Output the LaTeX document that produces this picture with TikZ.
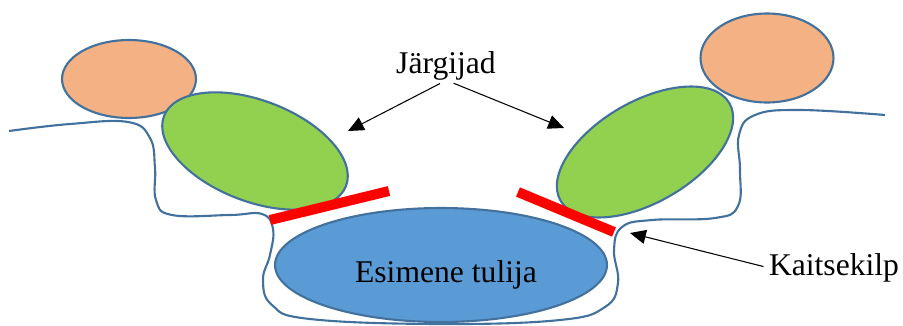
\documentclass[tikz,border=0pt]{standalone}
\usepackage{fontspec}
\setmainfont{Liberation Serif}
\usetikzlibrary{shapes.geometric,arrows.meta}
\definecolor{rim}{HTML}{41719C}
\definecolor{peach}{HTML}{F4B183}
\definecolor{leaf}{HTML}{92D050}
\definecolor{sea}{HTML}{5B9BD5}
\tikzset{
    EL/.style ={ellipse, draw=rim, line width=1.2pt, inner sep=0pt},
    OR/.style ={EL, fill=peach},
    GR/.style ={EL, fill=leaf, minimum width = 3.9cm, minimum height = 2.02cm},
    KS/.style ={red, line width=5.7pt},
    AR/.style ={-{Triangle[length=9pt,width=8pt]}, line width=0.6pt, shorten <=2pt}}

\begin{document}
\begin{tikzpicture}[x=0.02cm,y=-0.02cm,font=\fontsize{18}{22}\selectfont]
        \useasboundingbox (0,0) rectangle (903,325);
        % rim of the crowd
        \draw[rim, line width=1.2pt] plot[smooth, tension=0.7] coordinates {
            (9,131) (70,124) (128,122) (150,138) (155,168) (156,200) (172,215)
            (230,215) (262,214) (273,229) (270,255) (263,280) (272,305) (310,319)
            (440,324) (560,320) (605,307) (618,283) (614,250) (622,227) (652,220)
            (715,218) (738,206) (740,170) (739,135) (755,115) (800,110) (885,115)};
        \node[OR, minimum width=2.68cm, minimum height=1.56cm] (o1) at (129,79) {};
        \node[OR, minimum width=2.66cm, minimum height=1.78cm] (o2) at (767,58) {};
        \node[GR, rotate=-21] (g1) at (255,151) {};
        \node[GR, rotate=30] (g2) at (645,152) {};
        \node[EL, fill=sea, minimum width=6.64cm, minimum height=2.28cm] (e1) at (441,265) {};
        \node[anchor=base] (lb) at (446,282) {Esimene tulija};
        \draw[KS] (270,220) --(389,191);
        \draw[KS] (518,192) --(614,232);
        \node[anchor=base, inner sep=1pt] (jg) at (446,73) {Järgijad};
        \node[anchor=base, inner sep=1pt] (ks) at (834,275) {Kaitsekilp};
        \coordinate (t1) at (348,131);
        \coordinate (t2) at (564,128);
        \coordinate (t3) at (630,233);
        \draw[AR] (jg.-100) --(t1);
        \draw[AR] (jg.-75) --(t2);
        \draw[AR] (ks.west) --(t3);
    \end{tikzpicture}
\end{document}
